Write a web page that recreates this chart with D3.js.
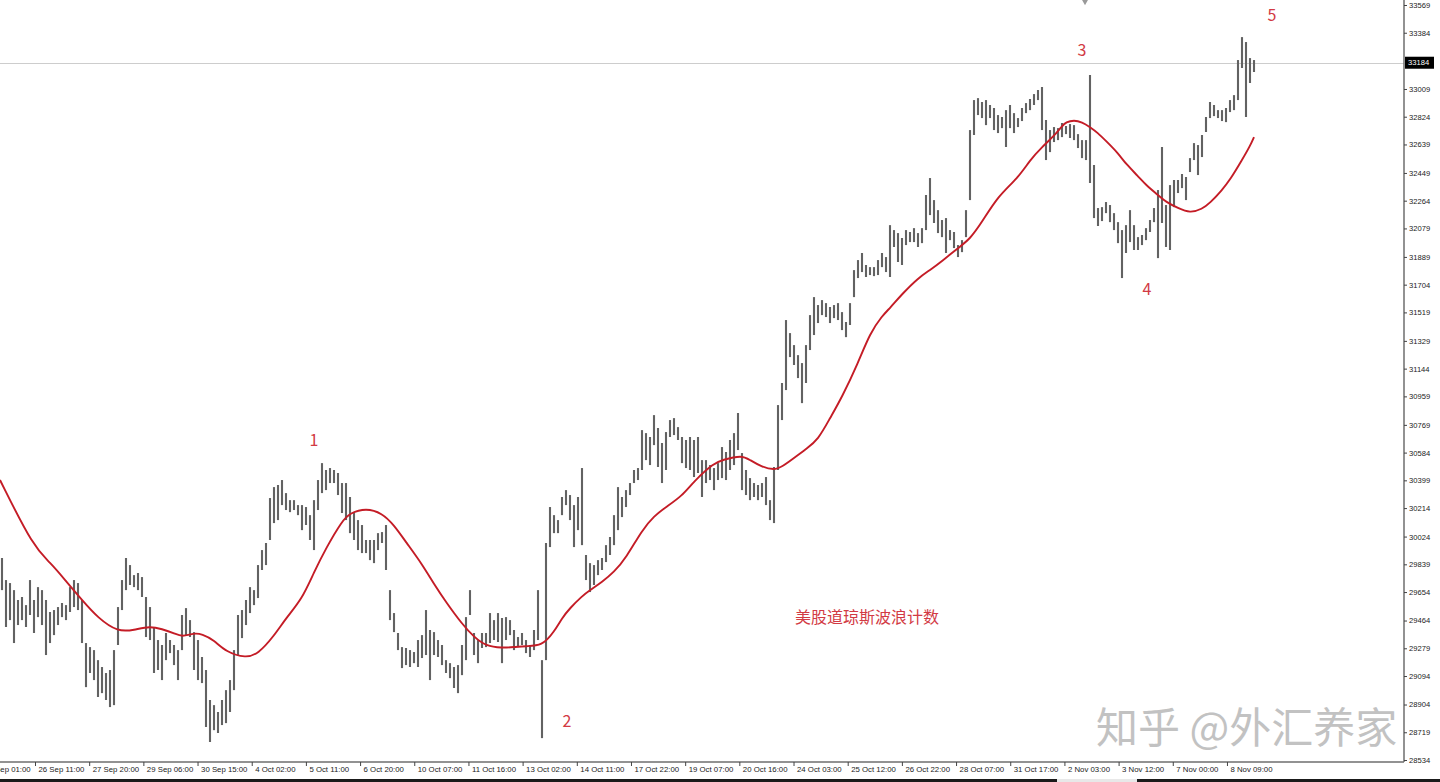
<!DOCTYPE html>
<html><head><meta charset="utf-8">
<script src="https://cdn.jsdelivr.net/npm/d3@7"></script>
<style>html,body{margin:0;padding:0;background:#fff;overflow:hidden}</style>
</head><body><svg id="c" width="1440" height="782"></svg>
<script>
// ---- data (Dow Jones, bars) ----
const highs = [
29881,29734,29714,29667,29601,29621,29567,29734,29601,29687,
29667,29601,29521,29534,29554,29581,29567,29687,29734,29714,
29601,29314,29287,29267,29200,29154,29114,29134,29267,29554,
29734,29881,29834,29767,29781,29754,29621,29554,29421,29334,
29301,29381,29334,29301,29267,29501,29547,29467,29387,29334,
29221,29134,28934,28900,28854,28934,29000,29067,29267,29501,
29534,29601,29687,29667,29834,29934,29981,30281,30354,30368,
30401,30314,30267,30267,30234,30234,30221,30167,30267,30401,
30514,30468,30481,30468,30448,30381,30381,30288,30181,30134,
30101,30001,30001,30001,30047,30054,30101,29667,29514,29381,
29287,29281,29267,29254,29334,29367,29534,29401,29387,29334,
29301,29200,29180,29154,29167,29301,29487,29667,29381,29334,
29381,29381,29514,29467,29514,29481,29487,29467,29401,29354,
29381,29334,29301,29401,29667,29200,29981,30221,30167,30134,
30288,30334,30301,30234,30288,30481,29901,29847,29834,29867,
29881,29967,30021,30167,30354,30288,30334,30381,30468,30481,
30734,30714,30688,30834,30748,30648,30721,30801,30814,30754,
30688,30668,30688,30668,30688,30534,30534,30501,30481,30514,
30621,30588,30668,30714,30848,30581,30468,30414,30381,30368,
30381,30421,30267,30488,30901,31048,31468,31381,31301,31234,
31181,31301,31501,31621,31568,31601,31581,31555,31568,31581,
31521,31455,31581,31801,31868,31915,31835,31821,31821,31868,
31915,31888,32101,32068,32048,32015,32068,32055,32081,32048,
32081,32302,32415,32268,32201,32135,32148,32068,32055,31968,
32001,32201,32735,32935,32948,32922,32935,32902,32882,32835,
32822,32868,32902,32848,32815,32882,32915,32942,32975,33002,
33022,32802,32735,32755,32748,32782,32762,32775,32768,32708,
32668,32668,33102,32502,32215,32221,32255,32235,32181,32121,
32068,32101,32201,32101,32021,32035,32081,32135,32215,32335,
32622,32235,32368,32402,32402,32442,32422,32548,32648,32635,
32702,32822,32922,32902,32868,32868,32882,32935,32968,33202,
33355,33322,33215,33202
];
const lows = [
29667,29421,29467,29314,29434,29467,29421,29501,29381,29487,
29434,29234,29314,29367,29434,29487,29467,29521,29554,29534,
29314,29020,29114,29067,28954,28980,28934,28887,28900,29301,
29534,29667,29701,29687,29667,29621,29354,29334,29114,29134,
29067,29200,29247,29167,29067,29267,29367,29354,29134,29067,
29047,28754,28654,28733,28714,28767,28780,28854,29000,29234,
29347,29434,29514,29567,29614,29801,29834,30001,30114,30134,
30234,30201,30187,30201,30167,30067,30101,30001,29934,30201,
30314,30334,30381,30381,30301,30181,30134,30047,30001,29934,
29914,29914,29867,29847,29934,29981,29801,29467,29387,29267,
29147,29167,29154,29180,29154,29214,29234,29067,29234,29221,
29167,29114,29080,29014,28980,29100,29200,29501,29234,29180,
29281,29287,29314,29334,29321,29180,29334,29367,29267,29287,
29301,29247,29221,29267,29334,28680,29200,29954,30047,30047,
30167,30234,30134,29954,30067,29967,29734,29654,29701,29767,
29801,29854,29901,29967,30067,30154,30221,30301,30381,30401,
30468,30534,30501,30634,30488,30381,30468,30688,30701,30668,
30514,30481,30468,30421,30448,30288,30381,30401,30334,30401,
30414,30401,30468,30501,30601,30334,30301,30267,30288,30267,
30288,30234,30134,30114,30468,30801,31001,31221,31168,31081,
30914,31048,31268,31368,31448,31501,31488,31448,31481,31468,
31401,31354,31435,31621,31748,31788,31755,31768,31761,31768,
31821,31788,31755,31955,31855,31835,31968,31988,31988,31955,
31981,32068,32168,32115,32048,32021,31915,32001,31948,31888,
31921,32021,32268,32702,32835,32815,32768,32815,32735,32715,
32748,32622,32748,32715,32755,32795,32848,32868,32902,32935,
32735,32535,32588,32655,32668,32688,32708,32682,32668,32615,
32548,32535,32382,32148,32095,32128,32181,32121,32068,31981,
31748,31915,31988,31935,31935,31968,32001,32055,32121,31881,
32115,31955,31935,32221,32315,32348,32268,32455,32535,32435,
32555,32722,32815,32828,32815,32795,32788,32855,32868,32935,
33149,32822,33049,33122
];
const maIndex = [-0.5,8,12,16,20,24,29,33,37,40,43,45,48,50,53,56,61,64,68,71,75,78,81,85,87,91,95,98,101,105,108,111,115,118,121,125,128,131,135,138,140,142,145,147,150,153,156,160,163,166,170,173,178,180,185,187,190,193,195,199,201,204,207,210,214,217,220,222,225,229,232,235,239,242,245,249,254,257,260,263,265,266,268,270,272,274,276,279,281,284,286,289,291,294,297,300,302,305,307,310,312,313];
const maValues = [30401,29947,29854,29727,29601,29481,29387,29401,29427,29407,29381,29354,29381,29374,29334,29254,29214,29241,29361,29481,29607,29787,29947,30128,30181,30214,30181,30101,29987,29841,29707,29587,29441,29354,29294,29281,29287,29294,29294,29387,29481,29547,29627,29667,29721,29787,29881,30067,30161,30221,30294,30394,30514,30534,30568,30534,30488,30468,30488,30568,30608,30668,30814,30954,31181,31381,31495,31548,31641,31748,31801,31861,31948,32008,32121,32295,32415,32535,32622,32695,32762,32788,32802,32788,32755,32715,32662,32582,32508,32428,32368,32302,32255,32215,32181,32208,32248,32335,32402,32535,32628,32688];
const yTickValues = [33569,33384,33009,32824,32639,32449,32264,32079,31889,31704,31519,31329,31144,30959,30769,30584,30399,30214,30024,29839,29654,29464,29279,29094,28904,28719,28534];
const xTickLabels = ["25 Sep 01:00","26 Sep 11:00","27 Sep 20:00","29 Sep 06:00","30 Sep 15:00","4 Oct 02:00","5 Oct 11:00","6 Oct 20:00","10 Oct 07:00","11 Oct 16:00","13 Oct 02:00","14 Oct 11:00","17 Oct 22:00","19 Oct 07:00","20 Oct 16:00","24 Oct 03:00","25 Oct 12:00","26 Oct 22:00","28 Oct 07:00","31 Oct 17:00","2 Nov 03:00","3 Nov 12:00","7 Nov 00:00","8 Nov 09:00"];
const waveLabels = ["1","2","3","4","5"];
const waveIndex = [78,141.25,270,286.25,317.5];
const wavePrice = [30674,28800,33275,31681,33509];
const currentPrice = 33184;
const titleText = "美股道琼斯波浪计数";
const titleIndex = 198.25, titlePrice = 29494;
const markerIndex = [270.75], markerPrice = [33620];

// ---- drawing ----
const W = 1440, H = 782, axisX = 1404, axisY = 762;
const svg = d3.select("#c");
const N = highs.length;
const x = d3.scaleLinear().domain([0, N - 1]).range([2, 2 + 4 * (N - 1)]);
const y = d3.scaleLinear().domain([28534, 33569]).range([760, 5]);
const red = "#d23a44";

svg.append("rect").attr("width", W).attr("height", H).attr("fill", "#fff");

// current price line
svg.append("line").attr("x1", 0).attr("x2", axisX).attr("y1", Math.round(y(currentPrice)) + 0.5).attr("y2", Math.round(y(currentPrice)) + 0.5)
  .attr("stroke", "#cdcdcd").attr("stroke-width", 1.2);

// bars
svg.append("g").selectAll("line").data(d3.range(N)).join("line")
  .attr("x1", i => x(i)).attr("x2", i => x(i))
  .attr("y1", i => y(highs[i])).attr("y2", i => y(lows[i]))
  .attr("stroke", "#626262").attr("stroke-width", 2.1);

// moving average
const maPts = maIndex.map((d, k) => [x(d), y(maValues[k])]);
svg.append("path").attr("d", d3.line().curve(d3.curveBasis)(maPts))
  .attr("fill", "none").attr("stroke", "#c41c26").attr("stroke-width", 1.9);

// marker diamond
svg.selectAll("path.mk").data(markerIndex).join("path").attr("class", "mk")
  .attr("transform", (d, k) => `translate(${x(d)},${y(markerPrice[k])})`)
  .attr("d", d3.symbol(d3.symbolDiamond, 70)).attr("fill", "#9a9a9a");

// wave labels
svg.selectAll("text.w").data(waveLabels).join("text").attr("class", "w")
  .attr("x", (d, k) => x(waveIndex[k])).attr("y", (d, k) => y(wavePrice[k]))
  .attr("text-anchor", "middle").attr("dominant-baseline", "central")
  .attr("font-family", "'Noto Sans CJK SC','Noto Sans',sans-serif").attr("font-size", 16)
  .attr("fill", red).text(d => d);

// title text
svg.append("text").attr("x", x(titleIndex)).attr("y", y(titlePrice))
  .attr("dominant-baseline", "central")
  .attr("font-family", "'Noto Sans CJK SC',sans-serif").attr("font-size", 16)
  .attr("fill", red).text(titleText);

// watermark
svg.append("text").attr("x", 1096).attr("y", 724).attr("dominant-baseline", "central")
  .attr("font-family", "'Noto Sans CJK SC',sans-serif").attr("font-size", 42)
  .attr("fill", "#c2c2c2")
  .text("知乎 @外汇养家");

// right/bottom area background past axis
svg.append("rect").attr("x", axisX).attr("y", 0).attr("width", W - axisX).attr("height", H).attr("fill", "#fff");
svg.append("rect").attr("x", 0).attr("y", axisY).attr("width", W).attr("height", H - axisY).attr("fill", "#fff");

// axes lines
svg.append("line").attr("x1", axisX).attr("x2", axisX).attr("y1", 0).attr("y2", axisY)
  .attr("stroke", "#6e6e6e").attr("stroke-width", 1.5);
svg.append("line").attr("x1", 0).attr("x2", axisX).attr("y1", axisY).attr("y2", axisY)
  .attr("stroke", "#6e6e6e").attr("stroke-width", 1.5);

const fnt = "'Liberation Sans',Arial,sans-serif";
// y axis via d3
const yAxis = d3.axisRight(y).tickValues(yTickValues).tickSize(3).tickPadding(2).tickFormat(d3.format("d"));
const gy = svg.append("g").attr("transform", `translate(${axisX},0)`).call(yAxis);
gy.select(".domain").remove();
gy.selectAll(".tick line").attr("stroke", "#444");
gy.selectAll(".tick text").attr("font-family", fnt).attr("font-size", 7.6).attr("fill", "#222");

// current price label
const cy = y(currentPrice);
svg.append("rect").attr("x", axisX + 1).attr("y", cy - 6).attr("width", 29).attr("height", 12).attr("fill", "#000");
svg.append("text").attr("x", axisX + 4).attr("y", cy).attr("dominant-baseline", "central")
  .attr("font-family", fnt).attr("font-size", 7.6).attr("fill", "#fff").text(currentPrice);

// x axis
const tickIdx = xTickLabels.map((d, k) => 8.25 + (k - 1) * 13.545);
const xAxis = d3.axisBottom(x).tickValues(tickIdx).tickSize(4).tickFormat((d, k) => xTickLabels[k]);
const gx = svg.append("g").attr("transform", `translate(0,${axisY})`).call(xAxis);
gx.select(".domain").remove();
gx.selectAll(".tick line").attr("stroke", "#444");
gx.selectAll(".tick text").attr("text-anchor", "start").attr("x", 3).attr("y", 4)
  .attr("font-family", fnt).attr("font-size", 7.8).attr("fill", "#222");

// bottom window border / tabs
svg.append("rect").attr("x", 0).attr("y", 779).attr("width", W).attr("height", 3).attr("fill", "#1a1a1a");
svg.append("rect").attr("x", 1057).attr("y", 779).attr("width", 80).attr("height", 3).attr("fill", "#e8e8e8");
</script></body></html>
